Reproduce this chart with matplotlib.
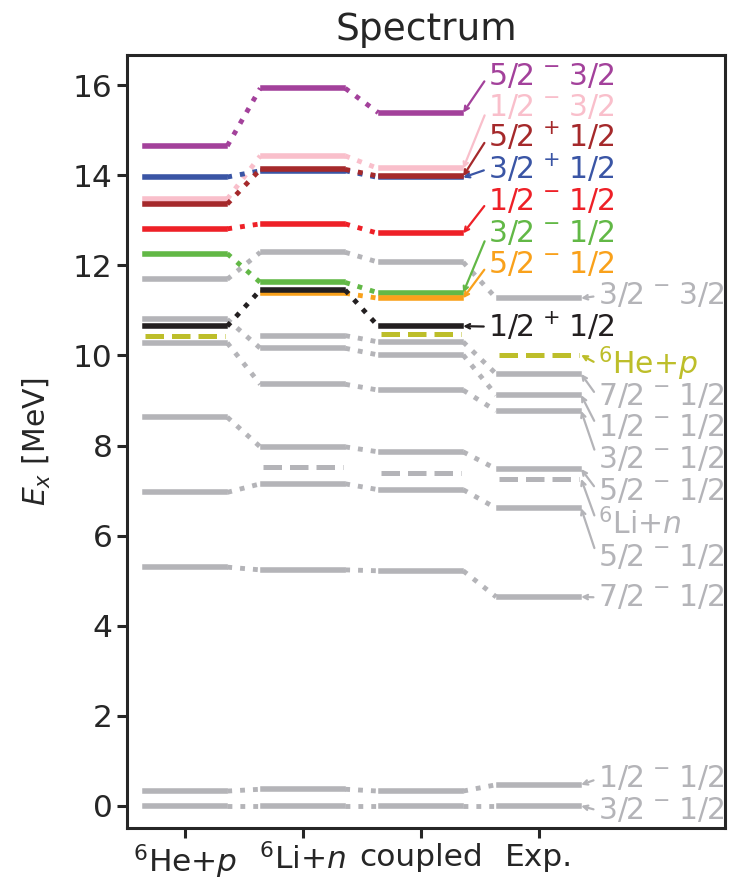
import numpy as np
import matplotlib
matplotlib.use("Agg")
import matplotlib.pyplot as plt

nan = np.nan

# ---------------- data ----------------
columns = [r"$^6$He+$p$", r"$^6$Li+$n$", "coupled", "Exp."]

# gray (known) states: energies in each column [MeV]
gray_hep     = [0.00, 0.33, 5.30, 6.96, 8.63, 10.28, 10.80, nan,   11.69]
gray_lin     = [0.00, 0.37, 5.24, 7.15, 7.97,  9.36, 10.16, 10.44, 12.29]
gray_coupled = [0.00, 0.33, 5.22, 7.02, 7.86,  9.23, 10.01, 10.30, 12.07]
gray_exp     = [0.00, 0.47, 4.64, 6.61, 7.48,  8.77,  9.12,  9.59, 11.27]
gray_jpt = [r"3/2$^{\,-\,}$1/2", r"1/2$^{\,-\,}$1/2", r"7/2$^{\,-\,}$1/2",
            r"5/2$^{\,-\,}$1/2", r"5/2$^{\,-\,}$1/2", r"3/2$^{\,-\,}$1/2",
            r"1/2$^{\,-\,}$1/2", r"7/2$^{\,-\,}$1/2", r"3/2$^{\,-\,}$3/2"]

# thresholds
thr_names   = [r"$^6$He+$p$", r"$^6$Li+$n$"]
thr_hep     = [10.43, nan]
thr_lin     = [nan, 7.53]
thr_coupled = [10.47, 7.38]
thr_exp     = [10.01, 7.26]

# highlighted states (theory columns only)
hl_jpt = [r"5/2$^{\,-\,}$3/2", r"1/2$^{\,-\,}$3/2", r"3/2$^{\,+\,}$1/2",
          r"5/2$^{\,+\,}$1/2", r"1/2$^{\,-\,}$1/2", r"3/2$^{\,-\,}$1/2",
          r"5/2$^{\,-\,}$1/2", r"1/2$^{\,+\,}$1/2"]
hl_hep     = [14.65, 13.47, 13.96, 13.36, 12.81, 12.26, nan,   10.65]
hl_lin     = [15.93, 14.43, 14.10, 14.13, 12.92, 11.62, 11.38, 11.45]
hl_coupled = [15.39, 14.15, 13.95, 13.98, 12.71, 11.39, 11.27, 10.65]

# ---------------- style / layout ----------------
GRAY = "#b4b4b8"
OLIVE = "#bdbe2a"
hl_colors = ["#a3419b", "#f9bfcb", "#3a55a5", "#a5292b",
             "#ee2027", "#62b846", "#f9a11b", "#231f20"]
# label positions (text placement)
hl_label_y = [16.20, 15.51, 14.14, 14.84, 13.42, 12.71, 12.01, 10.64]
gray_label_y = [-0.10, 0.60, 4.63, 5.51, 6.99, 7.70, 8.40, 9.08, 11.32]
thr_label_y = [9.81, 6.25]

FS = 21.5
FS_TICK = 22.5
W = 0.34
LW_LEVEL = 4.0
LW_CONN = 3.5

fig = plt.figure(figsize=(7.29, 8.85), dpi=100)
ax = fig.add_axes([0.1742, 0.0644, 0.8203, 0.8735])

def draw_state(vals, color, z, solid=True):
    prev = None
    for i, v in enumerate(vals):
        if np.isnan(v):
            prev = None
            continue
        if solid:
            ax.plot([i - W, i + W], [v, v], color=color, lw=LW_LEVEL,
                    solid_capstyle="projecting", zorder=z)
            if prev is not None:
                ax.plot([prev[0] + W + 0.02, i - W - 0.02], [prev[1], v],
                        color=color, lw=LW_CONN, ls=":", zorder=z)
            prev = (i, v)
        else:
            ax.plot([i - W, i + W], [v, v], color=color, lw=3.6, ls="--",
                    zorder=z)

# gray states
for k in range(len(gray_exp)):
    vals = [gray_hep[k], gray_lin[k], gray_coupled[k], gray_exp[k]]
    draw_state(vals, GRAY, 2)

# thresholds
thr_colors = [OLIVE, GRAY]
for k in range(len(thr_names)):
    vals = [thr_hep[k], thr_lin[k], thr_coupled[k], thr_exp[k]]
    draw_state(vals, thr_colors[k], 3, solid=False)

# highlighted states
for k in range(len(hl_jpt)):
    vals = [hl_hep[k], hl_lin[k], hl_coupled[k]]
    draw_state(vals, hl_colors[k], 4 + k)

def label(text, E, ly, x_end, x_text, color):
    ax.annotate(text, xy=(x_end, E), xytext=(x_text, ly), color=color,
                fontsize=FS, ha="left", va="center", zorder=20,
                arrowprops=dict(arrowstyle="->", color=color, lw=1.6,
                                relpos=(0, 0.5), shrinkA=1, shrinkB=0,
                                mutation_scale=8))

for k in range(len(hl_jpt)):
    label(hl_jpt[k], hl_coupled[k], hl_label_y[k], 2 + W + 0.02, 2.57,
          hl_colors[k])
for k in range(len(gray_jpt)):
    label(gray_jpt[k], gray_exp[k], gray_label_y[k], 3 + W + 0.02, 3.50, GRAY)
for k in range(len(thr_names)):
    label(thr_names[k], thr_exp[k], thr_label_y[k], 3 + W + 0.02, 3.50,
          thr_colors[k])

ax.set_xlim(-0.49, 4.58)
ax.set_ylim(-0.49, 16.67)
ax.set_xticks(range(len(columns)))
ax.set_xticklabels(columns)
ax.set_yticks(np.arange(0, 17, 2))
ax.tick_params(labelsize=FS_TICK, width=2.2, length=7, color=".15",
               labelcolor=".15")
for s in ax.spines.values():
    s.set_linewidth(2.2)
    s.set_color(".15")
ax.set_ylabel(r"$E_x$ [MeV]", fontsize=FS, color=".15", labelpad=14)
ax.set_title("Spectrum", fontsize=27, color=".15", pad=11)

fig.savefig("out.png", dpi=100)
